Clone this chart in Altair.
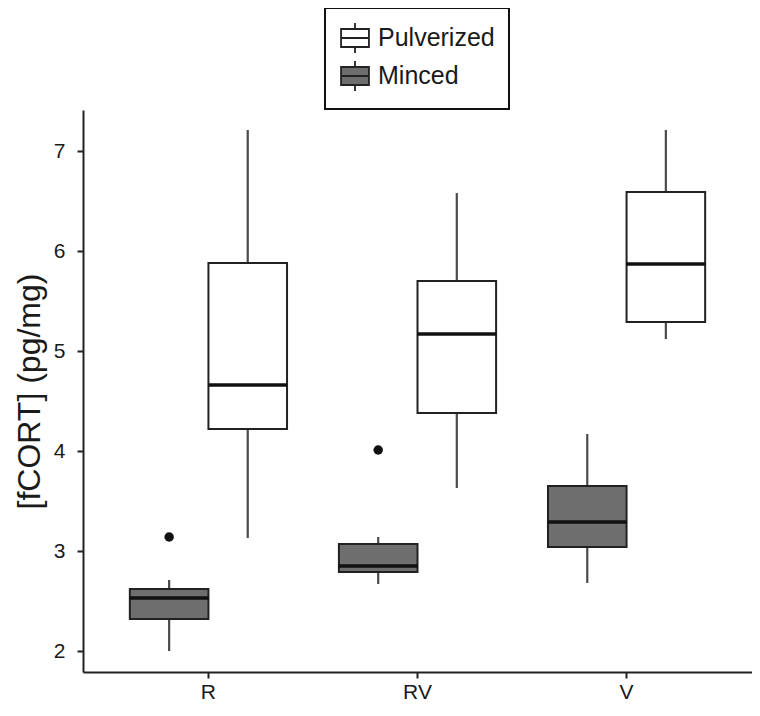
import altair as alt
import pandas as pd

categories = ["R", "RV", "V"]

pulv_lower = [3.13, 3.63, 5.12]
pulv_q1 = [4.22, 4.38, 5.29]
pulv_median = [4.66, 5.17, 5.87]
pulv_q3 = [5.88, 5.70, 6.59]
pulv_upper = [7.21, 6.58, 7.21]

minc_lower = [2.00, 2.67, 2.68]
minc_q1 = [2.32, 2.79, 3.04]
minc_median = [2.53, 2.85, 3.29]
minc_q3 = [2.62, 3.07, 3.65]
minc_upper = [2.71, 3.14, 4.17]

outlier_cat = ["R", "RV"]
outlier_grp = ["Minced", "Minced"]
outlier_val = [3.14, 4.01]

rows = []
for i, c in enumerate(categories):
    rows.append(dict(cat=c, grp="Pulverized", lower=pulv_lower[i], q1=pulv_q1[i],
                     median=pulv_median[i], q3=pulv_q3[i], upper=pulv_upper[i]))
    rows.append(dict(cat=c, grp="Minced", lower=minc_lower[i], q1=minc_q1[i],
                     median=minc_median[i], q3=minc_q3[i], upper=minc_upper[i]))
df = pd.DataFrame(rows)
out_df = pd.DataFrame(dict(cat=outlier_cat, grp=outlier_grp, val=outlier_val))

FONT = "Liberation Sans"
BOXPATH = "M-0.93,-0.6H0.93V0.6H-0.93Z M-0.93,0H0.93 M0,-0.6V-1 M0,0.6V1"

x_enc = alt.X("cat:N", sort=categories,
              scale=alt.Scale(paddingInner=0, paddingOuter=0.1),
              axis=alt.Axis(title=None, labelAngle=0, labelFontSize=21, labelFont=FONT,
                            labelColor="#1a1a1a", labelPadding=3, tickSize=6,
                            tickColor="#222", tickWidth=2, domainColor="#222",
                            domainWidth=2, grid=False))
xoff = alt.XOffset("grp:N", scale=alt.Scale(domain=["Minced", "Pulverized"],
                                              paddingInner=0, paddingOuter=0.33))
y_scale = alt.Scale(domain=[1.79, 7.41], nice=False, zero=False)
y_axis = alt.Axis(title="[fCORT] (pg/mg)", values=[2, 3, 4, 5, 6, 7], format="d",
                  labelFontSize=21, labelFont=FONT, labelColor="#1a1a1a",
                  labelPadding=12, tickSize=6, tickColor="#222", tickWidth=2,
                  domainColor="#222", domainWidth=2, grid=False,
                  titleFontSize=32, titleFont=FONT, titleFontWeight="normal",
                  titleColor="#1a1a1a", titlePadding=7)

base = alt.Chart(df).encode(x=x_enc, xOffset=xoff)

whisk = base.mark_rule(color="#4a4a4a", strokeWidth=2.2).encode(
    y=alt.Y("lower:Q", scale=y_scale, axis=y_axis), y2="upper:Q")

box = base.mark_bar(stroke="#222", strokeWidth=2, opacity=1).encode(
    y=alt.Y("q1:Q"), y2="q3:Q",
    color=alt.Color("grp:N",
                    scale=alt.Scale(domain=["Pulverized", "Minced"],
                                    range=["#ffffff", "#6e6e6e"]),
                    legend=alt.Legend(title=None, orient="none", legendX=242, legendY=-102,
                                      symbolType=BOXPATH, symbolSize=900,
                                      symbolStrokeColor="#222", symbolStrokeWidth=1.8,
                                      labelFontSize=25, labelFont=FONT, labelColor="#1a1a1a",
                                      labelExpr="datum.label + '\u00a0\u00a0\u00a0'",
                                      labelOffset=7, rowPadding=0, padding=14,
                                      strokeColor="#111", fillColor="white")))

med = base.mark_tick(orient="horizontal", size=79, thickness=3.5, color="#111",
                     opacity=1).encode(y="median:Q")

pts = alt.Chart(out_df).mark_circle(size=90, color="#111", opacity=1).encode(
    x=alt.X("cat:N", sort=categories), xOffset=alt.XOffset("grp:N"), y="val:Q")

chart = alt.layer(whisk, box, med, pts).properties(
    width=669, height=562,
    autosize=alt.AutoSizeParams(type="none"),
    padding={"left": 75, "top": 102, "right": 0, "bottom": 34},
).configure_view(stroke=None).configure_legend(strokeWidth=2)

chart.save("out.html", embed_options={"renderer": "svg", "actions": False})
